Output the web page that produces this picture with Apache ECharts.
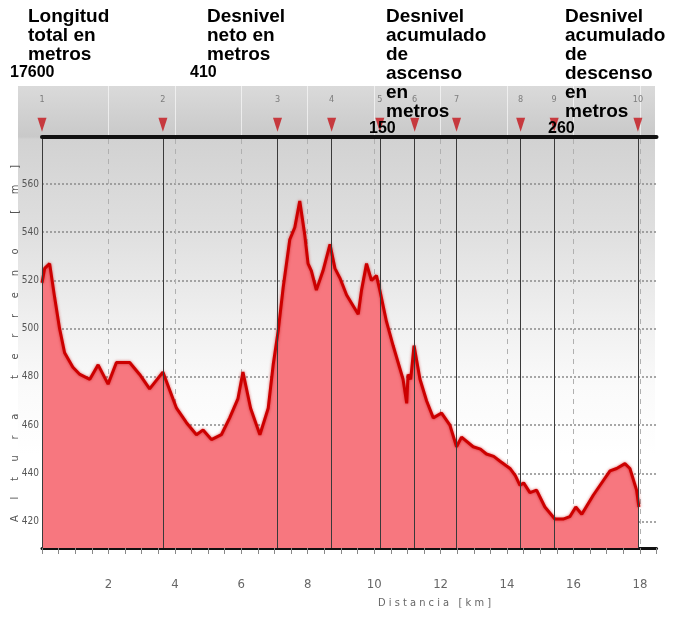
<!DOCTYPE html>
<html>
<head>
<meta charset="utf-8">
<script src="https://cdn.jsdelivr.net/npm/echarts@6/dist/echarts.min.js"></script>
<style>
html,body{margin:0;padding:0;background:#fff;}
#chart{width:684px;height:626px;}
</style>
</head>
<body>
<div id="chart"></div>
<script>
// ---- data ----
const distanceKm = [0.00,0.08,0.23,0.38,0.53,0.68,0.93,1.14,1.44,1.69,1.99,2.24,2.64,2.94,3.24,3.64,4.05,4.35,4.65,4.85,5.10,5.40,5.65,5.90,6.05,6.28,6.56,6.81,6.96,7.11,7.26,7.46,7.61,7.76,7.91,8.01,8.11,8.26,8.46,8.67,8.82,8.97,9.17,9.52,9.62,9.77,9.92,10.07,10.17,10.37,10.57,10.87,10.98,11.02,11.10,11.20,11.38,11.58,11.78,12.03,12.28,12.48,12.63,12.98,13.20,13.38,13.60,13.79,14.09,14.25,14.39,14.50,14.69,14.89,15.14,15.44,15.69,15.89,16.07,16.25,16.60,16.90,17.10,17.30,17.55,17.70,17.90,17.97];
const elevationM = [519,525,527,513,500,490,484,481,479,485,477,486,486,481,475,482,467,461,456,458,454,456,463,471,482,467,456,467,485,499,517,537,542,553,539,527,524,516,524,535,525,521,514,506,516,527,520,522,516,503,493,479,469,481,479,493,479,470,463,465,460,451,455,451,450,448,447,445,442,439,435,436,432,433,426,421,421,422,426,423,431,437,441,442,444,442,433,426];
const waypointKm = [0, 3.64, 7.09, 8.72, 10.17, 11.22, 12.48, 14.41, 15.42, 17.94];
const waypointLabels = ['1','2','3','4','5','6','7','8','9','10'];
const yTickValues = [420,440,460,480,500,520,540,560];
const xTickValues = [2,4,6,8,10,12,14,16,18];
const yAxisTitle = 'Altura terreno [m]';
const xAxisTitle = 'Distancia [km]';
const noteTitles = ['Longitud\ntotal en\nmetros', 'Desnivel\nneto en\nmetros', 'Desnivel\nacumulado\nde\nascenso\nen\nmetros', 'Desnivel\nacumulado\nde\ndescenso\nen\nmetros'];
const noteValues = ['17600', '410', '150', '260'];

// ---- chart ----
const narrow = "'Liberation Sans Narrow','DejaVu Sans Condensed','Liberation Sans',sans-serif";
const spaced = (s, n) => s.split('').join(' '.repeat(n));
const chart = echarts.init(document.getElementById('chart'));

const profile = distanceKm.map((d, i) => [d, elevationM[i]]);
const XMAX = 18.5;

// annotation placement (layout only)
const notePos = [
  {tx: 28, ty: 7, vx: 10, vy: 65},
  {tx: 207, ty: 7, vx: 190, vy: 65},
  {tx: 386, ty: 7, vx: 369, vy: 121},
  {tx: 565, ty: 7, vx: 548, vy: 121}
];
const noteGraphics = [];
noteTitles.forEach((t, i) => {
  noteGraphics.push({type: 'text', left: notePos[i].tx, top: notePos[i].ty, z: 100,
    style: {text: t, fill: '#000', font: "bold 19px 'Liberation Sans', Arial, sans-serif", lineHeight: 19}});
  noteGraphics.push({type: 'text', left: notePos[i].vx, top: notePos[i].vy, z: 100,
    style: {text: noteValues[i], fill: '#000', font: "bold 16px 'Liberation Sans', Arial, sans-serif"}});
});

const T = 'rgba(0,0,0,0)';
const hGridColors = [T].concat(yTickValues.map(() => '#8a8a8a')).concat([T]);
const vGridColors = [T].concat(xTickValues.map(() => '#b0b0b0')).concat([T]);
const hdrGridColors = [T].concat(xTickValues.map(() => 'rgba(255,255,255,0.6)')).concat([T]);

chart.setOption({
  animation: false,
  backgroundColor: '#ffffff',
  grid: [
    {left: 42, right: 27.5, top: 139, bottom: 78},
    {left: 42, right: 27.5, top: 135.8, bottom: 56.3},
    {left: 42, right: 27.5, top: 86, bottom: 489}
  ],
  xAxis: [
    {gridIndex: 0, type: 'value', min: 0, max: XMAX, interval: 2,
      axisLine: {lineStyle: {color: '#111', width: 3}},
      axisTick: {show: false},
      axisLabel: {margin: 30, color: '#666', fontSize: 13, fontFamily: narrow,
        showMinLabel: false, showMaxLabel: false,
        formatter: v => xTickValues.indexOf(v) >= 0 ? String(v) : ''},
      splitLine: {show: true, lineStyle: {color: vGridColors, type: [5, 5], width: 1}}},
    {gridIndex: 0, type: 'value', min: 0, max: XMAX, interval: 0.5, position: 'bottom',
      axisLine: {show: false},
      axisTick: {show: true, length: 6, lineStyle: {color: '#888'}},
      axisLabel: {show: false}, splitLine: {show: false}},
    {gridIndex: 1, type: 'value', min: 0, max: XMAX, show: false},
    {gridIndex: 2, type: 'value', min: 0, max: XMAX, interval: 2,
      axisLine: {lineStyle: {color: '#111', width: 4}},
      axisTick: {show: false}, axisLabel: {show: false},
      splitLine: {show: true, lineStyle: {color: hdrGridColors, width: 1}}}
  ],
  yAxis: [
    {gridIndex: 0, type: 'value', min: 409, max: 578.7,
      axisLine: {show: true, lineStyle: {color: '#333', width: 1}},
      axisTick: {show: false}, axisLabel: {show: false}, splitLine: {show: false},
      name: spaced(yAxisTitle, 5), nameLocation: 'middle', nameGap: 21, nameRotate: 90,
      nameTextStyle: {color: '#555', fontSize: 11, fontFamily: narrow}},
    {gridIndex: 1, type: 'value', min: 400, max: 580, interval: 20,
      axisLine: {show: false}, axisTick: {show: false},
      axisLabel: {margin: 3, color: '#555', fontSize: 10, fontFamily: narrow,
        formatter: v => yTickValues.indexOf(v) >= 0 ? String(v) : ''},
      splitLine: {show: true, lineStyle: {color: hGridColors, type: [2, 2], width: 1.5}}},
    {gridIndex: 2, type: 'value', min: 0, max: 1, show: false}
  ],
  series: [
    {type: 'line', xAxisIndex: 0, yAxisIndex: 0, data: profile, symbol: 'none', z: 3,
      lineStyle: {color: '#cc0000', width: 3, shadowBlur: 3, shadowColor: 'rgba(200,0,0,0.6)'},
      areaStyle: {color: '#f7777f', opacity: 1, origin: 'start'},
      markLine: {silent: true, symbol: ['none', 'none'], label: {show: false},
        lineStyle: {color: '#3a3a3a', width: 1, type: 'solid'},
        data: waypointKm.map(k => ({xAxis: k}))}},
    {type: 'scatter', xAxisIndex: 3, yAxisIndex: 2, z: 5,
      data: waypointKm.map(k => [k, 0.24]),
      symbol: 'triangle', symbolRotate: 180, symbolSize: [9, 14],
      itemStyle: {color: '#c4141a'},
      label: {show: true, position: 'top', distance: 14, color: '#666', fontSize: 9, fontFamily: narrow,
        formatter: p => waypointLabels[p.dataIndex]}}
  ],
  graphic: [
    {type: 'rect', z: -10, silent: true,
      shape: {x: 18, y: 86, width: 637, height: 462},
      style: {fill: {type: 'linear', x: 0, y: 0, x2: 0, y2: 1, colorStops: [
        {offset: 0, color: '#dadada'},
        {offset: 0.11, color: '#c9c9c9'},
        {offset: 0.115, color: '#d2d2d2'},
        {offset: 0.3, color: '#dedede'},
        {offset: 0.5, color: '#efefef'},
        {offset: 0.65, color: '#fafafa'},
        {offset: 0.8, color: '#ffffff'},
        {offset: 1, color: '#ffffff'}]}}},
    {type: 'text', left: 378, top: 598, z: 50,
      style: {text: spaced(xAxisTitle, 1), fill: '#666', font: "11px " + narrow}}
  ].concat(noteGraphics)
});
</script>
</body>
</html>
